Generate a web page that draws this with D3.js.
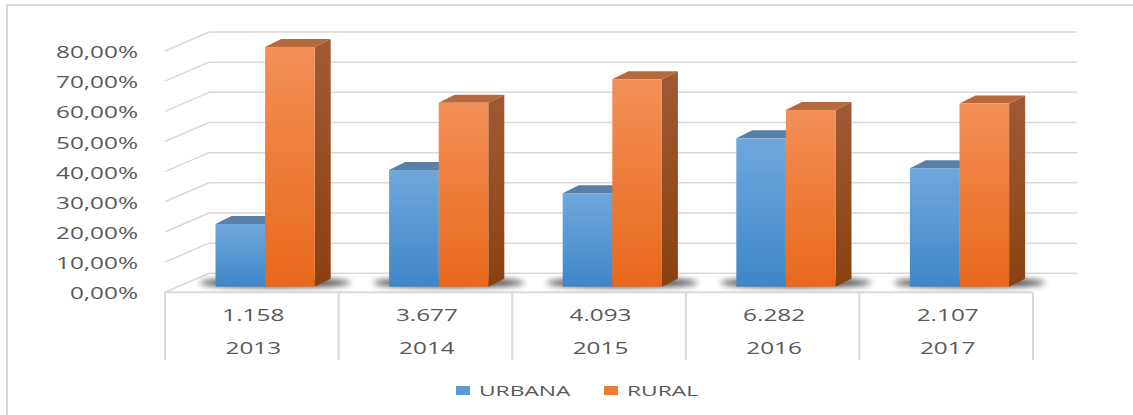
<!DOCTYPE html>
<html>
<head>
<meta charset="utf-8">
<script src="https://cdn.jsdelivr.net/npm/d3@7"></script>
<style>
  body { margin: 0; background: #fff; }
  text { font-family: "Open Sans", sans-serif; fill: #595959; }
</style>
</head>
<body>
<div id="chart"></div>
<script>
// Data
const years = ["2013", "2014", "2015", "2016", "2017"];
const counts = ["1.158", "3.677", "4.093", "6.282", "2.107"];
const series = ["URBANA", "RURAL"];
const urbana = [0.208, 0.387, 0.310, 0.492, 0.393];
const rural = [0.795, 0.610, 0.688, 0.586, 0.607];
const yTicks = [0, 0.1, 0.2, 0.3, 0.4, 0.5, 0.6, 0.7, 0.8];

const W = 1133, H = 415;
const SX = 1.52; // the picture is stretched horizontally
const grid = "#d9d9d9";

// Oblique "3D" layout
const depth = { dx: -44, dy: 19 };   // back wall -> front edge of floor
const barDepth = { dx: 16, dy: -8 }; // bar thickness
const barShift = 13.3;               // x shift of bar front face vs floor front

const svg = d3.select("#chart").append("svg")
    .attr("width", W)
    .attr("height", H);

const defs = svg.append("defs");
function vGrad(id, top, bottom) {
  const g = defs.append("linearGradient").attr("id", id)
      .attr("x1", 0).attr("y1", 0).attr("x2", 0).attr("y2", 1);
  g.append("stop").attr("offset", "0%").attr("stop-color", top);
  g.append("stop").attr("offset", "100%").attr("stop-color", bottom);
}
vGrad("blueFront", "#70a8dd", "#3f86c8");
vGrad("orangeFront", "#f39058", "#e8681b");
vGrad("orangeSide", "#a05a34", "#8a4110");
vGrad("blueSide", "#4f7aa6", "#2f5f95");
defs.append("filter").attr("id", "blur")
    .attr("x", "-50%").attr("y", "-200%").attr("width", "200%").attr("height", "500%")
  .append("feGaussianBlur").attr("stdDeviation", 3);

// Outer frame (only top and left visible)
svg.append("path")
    .attr("d", `M7,${H} L7,5 L${W},5`)
    .attr("fill", "none")
    .attr("stroke", grid)
    .attr("stroke-width", 2);

// Scales: back wall values, and values at bar front
const y = d3.scaleLinear().domain([0, 0.8]).range([273.3, 32]);
const yBar = d3.scaleLinear().domain([0, 0.8]).range([286.7, 286.7 - 241.3]);
const x = d3.scaleBand().domain(years).range([165, 1033]);
const bw = x.bandwidth() / 3.5; // gap width 150%
const xs = d3.scaleBand().domain(series).range([0, 2 * bw]);
const backLeft = 165 - depth.dx, backRight = 1033 - depth.dx;

// Gridlines on back wall and side wall
const gridG = svg.append("g");
gridG.selectAll(".back")
  .data(yTicks)
  .enter().append("line")
    .attr("x1", backLeft).attr("x2", backRight)
    .attr("y1", d => y(d)).attr("y2", d => y(d))
    .attr("stroke", grid).attr("stroke-width", 1.5);
gridG.selectAll(".side")
  .data(yTicks)
  .enter().append("line")
    .attr("x1", backLeft).attr("y1", d => y(d))
    .attr("x2", backLeft + depth.dx).attr("y2", d => y(d) + depth.dy)
    .attr("stroke", grid).attr("stroke-width", 1.5);

// Y axis labels
svg.selectAll(".ylab")
  .data(yTicks)
  .enter().append("text")
    .attr("transform", d => `translate(138,${y(d) + depth.dy + 1.5}) scale(${SX},1)`)
    .attr("text-anchor", "end")
    .attr("dy", "0.35em")
    .style("font-size", "16px")
    .text(d => d3.format(".2f")(d * 100).replace(".", ",") + "%");

// Bars
const bars = years.map((yr, i) => ({ year: yr, urbana: urbana[i], rural: rural[i] }));
const groups = svg.selectAll(".grp")
  .data(bars)
  .enter().append("g")
    .attr("transform", d => `translate(${x(d.year) + barShift + 0.75 * bw},0)`);

// floor shadow
groups.append("ellipse")
    .attr("cx", bw + 10)
    .attr("cy", yBar(0) - 4)
    .attr("rx", bw + 26)
    .attr("ry", 4.5)
    .attr("fill", "#000")
    .attr("opacity", 0.75)
    .attr("filter", "url(#blur)");

function drawBar(g, key, front, side, topC) {
  g.each(function(d) {
    const sel = d3.select(this);
    const x0 = xs(key), x1 = x0 + bw;
    const yt = yBar(d[key.toLowerCase()]), yb = yBar(0);
    const dx = barDepth.dx, dy = barDepth.dy;
    sel.append("path")
        .attr("d", `M${x1},${yt} L${x1 + dx},${yt + dy} L${x1 + dx},${yb + dy} L${x1},${yb} Z`)
        .attr("fill", side);
    sel.append("path")
        .attr("d", `M${x0},${yt} L${x0 + dx},${yt + dy} L${x1 + dx},${yt + dy} L${x1},${yt} Z`)
        .attr("fill", topC);
    sel.append("rect")
        .attr("x", x0).attr("y", yt)
        .attr("width", bw).attr("height", yb - yt)
        .attr("fill", front);
  });
}
drawBar(groups, "URBANA", "url(#blueFront)", "url(#blueSide)", "#5a80a8");
drawBar(groups, "RURAL", "url(#orangeFront)", "url(#orangeSide)", "#b6683e");

// Category table
const tableTop = 292.3, tableBottom = 360;
svg.append("line")
    .attr("x1", 165).attr("x2", 1033)
    .attr("y1", tableTop).attr("y2", tableTop)
    .attr("stroke", grid).attr("stroke-width", 2);
svg.selectAll(".vline")
  .data(years.map(d => x(d)).concat([x.range()[1]]))
  .enter().append("line")
    .attr("x1", d => d).attr("x2", d => d)
    .attr("y1", tableTop).attr("y2", tableBottom)
    .attr("stroke", grid).attr("stroke-width", 2);

svg.selectAll(".cnt")
  .data(years)
  .enter().append("text")
    .attr("transform", (d, i) => `translate(${x(d) + x.bandwidth() / 2 + 1.5},315) scale(${SX},1)`)
    .attr("text-anchor", "middle")
    .attr("dy", "0.35em")
    .style("font-size", "16px")
    .text((d, i) => counts[i]);
svg.selectAll(".yr")
  .data(years)
  .enter().append("text")
    .attr("transform", d => `translate(${x(d) + x.bandwidth() / 2 + 1.5},348) scale(${SX},1)`)
    .attr("text-anchor", "middle")
    .attr("dy", "0.35em")
    .style("font-size", "16px")
    .text(d => d);

// Legend
const legendColor = { URBANA: "#5b9bd5", RURAL: "#ed7d31" };
const legendX = { URBANA: 456, RURAL: 604 };
const legend = svg.selectAll(".legend")
  .data(series)
  .enter().append("g")
    .attr("transform", d => `translate(${legendX[d]},386)`);
legend.append("rect")
    .attr("width", 14).attr("height", 9)
    .attr("fill", d => legendColor[d]);
legend.append("text")
    .attr("transform", `translate(23,4.5) scale(${SX},1)`)
    .attr("dy", "0.35em")
    .style("font-size", "15px")
    .text(d => d);
</script>
</body>
</html>
